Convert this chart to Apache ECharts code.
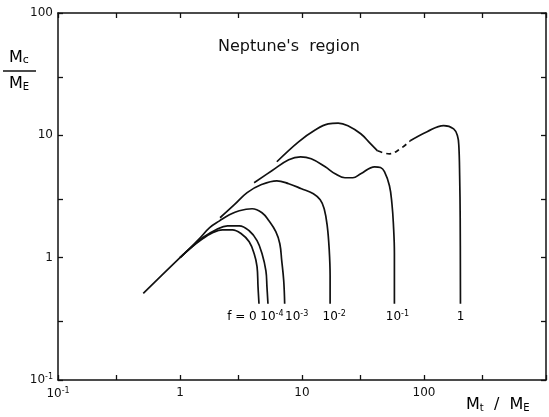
<!DOCTYPE html>
<html><head><meta charset="utf-8">
<script src="https://cdn.jsdelivr.net/npm/echarts@6/dist/echarts.min.js"></script>
<style>html,body{margin:0;padding:0;background:#fff}#c{width:549px;height:417px}</style>
</head><body><div id="c"></div>
<script>
// Axis ticks (log axes)
const tickValues = [0.1, 0.3, 1, 3, 10, 30, 100, 300, 1000];
const xLabelExps = [-1, 0, 1, 2];
const yLabelExps = [-1, 0, 1, 2];

// Curves: M_t/M_E (x) vs M_c/M_E (y)
const f0X = [0.5, 1.0, 1.2, 1.54, 1.85, 2.23, 2.69, 3.18, 3.69, 4.05, 4.28, 4.36, 4.44];
const f0Y = [0.51, 1.0, 1.18, 1.43, 1.60, 1.69, 1.69, 1.57, 1.35, 1.08, 0.845, 0.58, 0.42];

const f4X = [1.0, 1.2, 1.54, 1.99, 2.45, 3.06, 3.69, 4.28, 4.70, 5.06, 5.16, 5.26];
const f4Y = [1.0, 1.18, 1.46, 1.70, 1.82, 1.82, 1.66, 1.38, 1.08, 0.78, 0.58, 0.42];

const f3X = [1.0, 1.2, 1.45, 1.75, 2.11, 2.54, 3.06, 3.90, 4.70, 5.36, 6.10, 6.58, 6.82, 7.08, 7.21];
const f3Y = [1.0, 1.19, 1.44, 1.76, 2.0, 2.24, 2.42, 2.51, 2.33, 2.0, 1.63, 1.30, 0.945, 0.65, 0.42];

const f2X = [2.13, 2.79, 3.55, 4.61, 6.22, 7.78, 9.9, 12.4, 14.1, 15.2, 16.1, 16.7, 17.0, 17.0];
const f2Y = [2.12, 2.71, 3.40, 3.94, 4.25, 4.02, 3.66, 3.33, 2.97, 2.51, 1.82, 1.18, 0.71, 0.42];

const f1X = [4.05, 5.66, 7.78, 9.73, 11.9, 15.5, 18.7, 22.5, 26.1, 30.3, 39.4, 44.0, 47.4, 52.1, 54.6, 56.1, 57.2, 57.2];
const f1Y = [4.10, 5.13, 6.31, 6.67, 6.43, 5.53, 4.85, 4.50, 4.50, 4.85, 5.53, 5.45, 5.04, 3.87, 2.76, 1.90, 1.08, 0.42];

// f = 1 : solid, dashed, solid
const fAX1 = [6.22, 9.37, 12.9, 16.4, 19.8, 23.8, 30.3, 35.9, 41.6];
const fAY1 = [6.08, 8.85, 11.1, 12.4, 12.6, 12.0, 10.3, 8.69, 7.47];
const fAXd = [41.6, 52.1, 63.9, 77.0];
const fAYd = [7.47, 7.06, 7.76, 9.02];
const fAX2 = [77.0, 106, 145, 175, 188, 193, 196, 198, 199];
const fAY2 = [9.02, 10.7, 12.0, 11.3, 9.9, 8.2, 4.67, 2.08, 0.42];

// Curve labels (base, superscript) placed under each curve end
const curveLabelBase = ['f = 0', '10', '10', '10', '10', '1'];
const curveLabelExp = ['', '-4', '-3', '-2', '-1', ''];

const FONT = 'DejaVu Sans, sans-serif';
const INK = '#111';

const chart = echarts.init(document.getElementById('c'), null, {renderer: 'canvas'});

function zip(xs, ys) { return xs.map((x, i) => [x, ys[i]]); }
function lineSeries(xs, ys, dashed) {
  return {
    type: 'line', xAxisIndex: 0, yAxisIndex: 0,
    data: zip(xs, ys), showSymbol: false, symbol: 'none',
    smooth: 0.4, animation: false, silent: true,
    lineStyle: {color: INK, width: 1.7, type: dashed ? [5, 4] : 'solid'}
  };
}
const richSup = {
  b: {fontSize: 12, fontFamily: FONT, color: INK},
  s: {fontSize: 8, fontFamily: FONT, color: INK, verticalAlign: 'top', padding: [0, 0, 6, 0]}
};
function expLabel(e) {
  if (e === -1) return '{b|10}{s|-1}';
  return '{b|' + Math.pow(10, e).toString() + '}';
}

function logAxis(pos, showLabels, labelExps, isX) {
  return {
    type: 'log', logBase: 10, min: 0.1, max: 1000 / (isX ? 1 : 10),
    position: pos,
    axisLine: {show: true, onZero: false, lineStyle: {color: INK, width: 1.5}},
    axisTick: {show: true, inside: true, length: 5, customValues: tickValues,
      lineStyle: {color: INK, width: 1.3}},
    splitLine: {show: false},
    minorTick: {show: false},
    axisLabel: {
      show: showLabels, margin: isX ? 7 : 5,
      formatter: function (v) {
        const e = Math.round(Math.log10(v));
        return labelExps.indexOf(e) >= 0 ? expLabel(e) : '';
      },
      rich: richSup, showMinLabel: true, showMaxLabel: true
    }
  };
}

const option = {
  backgroundColor: '#fff',
  animation: false,
  grid: {left: 58, right: 0, top: 13, bottom: 37},
  xAxis: [logAxis('bottom', true, xLabelExps, true), logAxis('top', false, xLabelExps, true)],
  yAxis: [logAxis('left', true, yLabelExps, false), logAxis('right', false, yLabelExps, false)],
  series: [
    lineSeries(f0X, f0Y), lineSeries(f4X, f4Y), lineSeries(f3X, f3Y),
    lineSeries(f2X, f2Y), lineSeries(f1X, f1Y),
    lineSeries(fAX1, fAY1), lineSeries(fAXd, fAYd, true), lineSeries(fAX2, fAY2)
  ],
  graphic: [
    {type: 'text', x: 218, y: 47, style: {text: "Neptune's  region", font: '16px ' + FONT, fill: INK, verticalAlign: 'middle', align: 'left'}},
    {type: 'text', x: 9, y: 58, style: {text: '{m|M}{c|c}', verticalAlign: 'middle', align: 'left',
      rich: {m: {fontSize: 16, fontFamily: FONT, color: INK}, c: {fontSize: 11, fontFamily: FONT, color: INK, verticalAlign: 'bottom'}}}},
    {type: 'line', shape: {x1: 3, y1: 71, x2: 36, y2: 71}, style: {stroke: INK, lineWidth: 1.5}},
    {type: 'text', x: 9, y: 84, style: {text: '{m|M}{c|E}', verticalAlign: 'middle', align: 'left',
      rich: {m: {fontSize: 16, fontFamily: FONT, color: INK}, c: {fontSize: 10, fontFamily: FONT, color: INK, verticalAlign: 'bottom', padding: [4, 0, 0, 0]}}}},
    {type: 'text', x: 466, y: 405, style: {text: '{m|M}{c|t}{m|  /  M}{c|E}', verticalAlign: 'middle', align: 'left',
      rich: {m: {fontSize: 16, fontFamily: FONT, color: INK}, c: {fontSize: 10, fontFamily: FONT, color: INK, verticalAlign: 'bottom', padding: [4, 0, 0, 0]}}}}
  ]
};
chart.setOption(option);

// Curve-end labels positioned through the axes' own scales
const ends = [
  [f0X[f0X.length - 1], f0Y[f0Y.length - 1], -17],
  [f4X[f4X.length - 1], f4Y[f4Y.length - 1], 4],
  [f3X[f3X.length - 1], f3Y[f3Y.length - 1], 12],
  [f2X[f2X.length - 1], f2Y[f2Y.length - 1], 4],
  [f1X[f1X.length - 1], f1Y[f1Y.length - 1], 3],
  [fAX2[fAX2.length - 1], fAY2[fAY2.length - 1], 0]
];
const labelGraphics = ends.map((e, i) => {
  const p = chart.convertToPixel({xAxisIndex: 0, yAxisIndex: 0}, [e[0], e[1]]);
  const txt = curveLabelExp[i] ? '{b|' + curveLabelBase[i] + '}{s|' + curveLabelExp[i] + '}' : '{b|' + curveLabelBase[i] + '}';
  return {type: 'text', x: p[0] + e[2], y: p[1] + 13,
    style: {text: txt, rich: richSup, align: 'center', verticalAlign: 'middle'}};
});
chart.setOption({graphic: option.graphic.concat(labelGraphics)});
</script>
</body></html>
